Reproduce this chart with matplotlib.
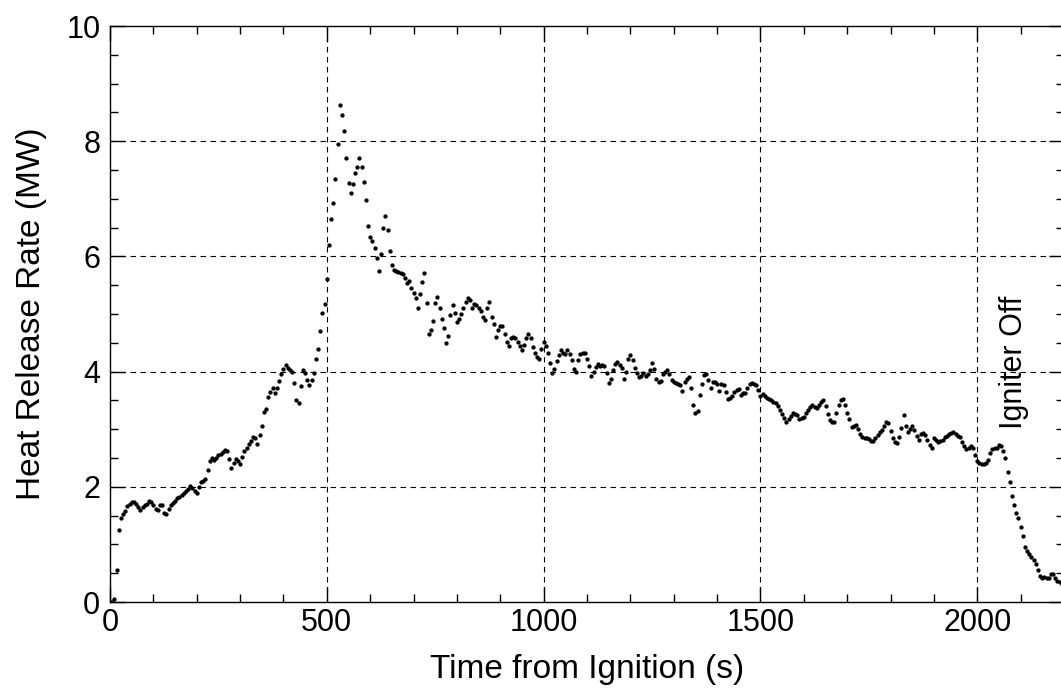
import numpy as np
import matplotlib
matplotlib.use('Agg')
import matplotlib.pyplot as plt
from matplotlib.ticker import MultipleLocator

plt.rcParams['font.family'] = ['Liberation Sans', 'DejaVu Sans']

TIME_STEP_S = 5
HRR_MW = [
    0.00, 0.00, 0.05, 0.55, 1.25, 1.45, 1.52, 1.58, 1.66, 1.70, 1.74, 1.73, 1.70, 1.65, 1.60, 1.65, 1.68, 1.70, 1.75, 1.74,
    1.68, 1.62, 1.60, 1.68, 1.68, 1.55, 1.52, 1.62, 1.68, 1.72, 1.76, 1.80, 1.82, 1.86, 1.89, 1.93, 1.97, 2.01, 1.98, 1.93,
    1.90, 2.00, 2.08, 2.10, 2.14, 2.30, 2.45, 2.50, 2.47, 2.50, 2.55, 2.57, 2.60, 2.64, 2.62, 2.48, 2.32, 2.42, 2.48, 2.44,
    2.40, 2.52, 2.62, 2.68, 2.74, 2.80, 2.86, 2.85, 2.75, 2.90, 3.05, 3.30, 3.35, 3.56, 3.64, 3.72, 3.62, 3.72, 3.84, 3.95,
    4.05, 4.11, 4.06, 4.02, 4.00, 3.80, 3.50, 3.45, 3.75, 4.03, 3.98, 3.85, 3.77, 3.85, 3.98, 4.22, 4.40, 4.70, 5.02, 5.17,
    5.60, 6.20, 6.65, 6.92, 7.35, 7.95, 8.62, 8.45, 8.17, 7.70, 7.28, 7.10, 7.25, 7.45, 7.55, 7.70, 7.55, 7.30, 6.98, 6.52,
    6.34, 6.26, 6.14, 5.98, 5.75, 6.05, 6.50, 6.70, 6.46, 6.10, 5.85, 5.76, 5.74, 5.73, 5.72, 5.70, 5.62, 5.53, 5.58, 5.45,
    5.36, 5.27, 5.10, 5.35, 5.55, 5.72, 5.19, 4.65, 4.72, 4.88, 5.19, 5.30, 5.10, 4.92, 4.75, 4.50, 4.62, 4.98, 5.16, 5.02,
    4.86, 4.92, 5.00, 5.10, 5.20, 5.28, 5.25, 5.10, 5.18, 5.15, 5.10, 5.06, 4.95, 4.90, 5.10, 5.20, 4.95, 4.82, 4.60, 4.72,
    4.80, 4.80, 4.66, 4.52, 4.45, 4.58, 4.60, 4.58, 4.52, 4.45, 4.38, 4.47, 4.58, 4.66, 4.58, 4.42, 4.32, 4.25, 4.22, 4.40,
    4.52, 4.45, 4.32, 4.15, 3.98, 4.05, 4.18, 4.28, 4.38, 4.32, 4.30, 4.38, 4.30, 4.20, 4.05, 4.00, 4.20, 4.30, 4.32, 4.32,
    4.22, 4.10, 3.92, 4.00, 4.08, 4.14, 4.10, 4.12, 4.10, 3.98, 3.80, 3.88, 4.02, 4.14, 4.16, 4.12, 4.06, 3.88, 4.00, 4.22,
    4.28, 4.20, 4.06, 3.97, 3.90, 3.92, 3.97, 3.93, 3.95, 4.02, 4.15, 4.05, 3.88, 3.82, 3.84, 3.95, 4.00, 4.02, 3.95, 3.86,
    3.82, 3.80, 3.79, 3.77, 3.66, 3.82, 3.88, 3.90, 3.71, 3.42, 3.28, 3.32, 3.60, 3.78, 3.94, 3.96, 3.86, 3.72, 3.82, 3.82,
    3.78, 3.66, 3.78, 3.76, 3.65, 3.53, 3.54, 3.58, 3.64, 3.68, 3.70, 3.60, 3.62, 3.63, 3.72, 3.78, 3.80, 3.79, 3.77, 3.68,
    3.58, 3.61, 3.58, 3.54, 3.52, 3.50, 3.48, 3.45, 3.40, 3.34, 3.26, 3.20, 3.12, 3.18, 3.23, 3.28, 3.26, 3.24, 3.18, 3.20,
    3.22, 3.28, 3.34, 3.39, 3.42, 3.38, 3.36, 3.42, 3.47, 3.51, 3.40, 3.26, 3.16, 3.12, 3.12, 3.28, 3.42, 3.50, 3.53, 3.42,
    3.28, 3.18, 3.03, 3.06, 3.08, 3.00, 2.92, 2.87, 2.85, 2.84, 2.83, 2.79, 2.80, 2.84, 2.90, 2.96, 2.99, 3.06, 3.13, 3.10,
    2.97, 2.84, 2.78, 2.76, 2.86, 3.02, 3.25, 3.05, 2.95, 3.00, 3.06, 2.98, 2.88, 2.81, 2.92, 2.94, 2.90, 2.82, 2.72, 2.68,
    2.85, 2.82, 2.78, 2.80, 2.82, 2.86, 2.88, 2.92, 2.94, 2.96, 2.92, 2.89, 2.87, 2.78, 2.70, 2.65, 2.68, 2.70, 2.67, 2.55,
    2.44, 2.41, 2.40, 2.40, 2.42, 2.46, 2.58, 2.65, 2.67, 2.67, 2.72, 2.70, 2.62, 2.50, 2.26, 2.08, 1.84, 1.68, 1.55, 1.45,
    1.31, 1.14, 0.96, 0.88, 0.83, 0.78, 0.73, 0.66, 0.55, 0.45, 0.41, 0.43, 0.42, 0.41, 0.48, 0.49, 0.42, 0.37, 0.35, 0.32,
]
TIME_S = np.arange(len(HRR_MW)) * TIME_STEP_S

X_TICKS = [0, 500, 1000, 1500, 2000]
Y_TICKS = [0, 2, 4, 6, 8, 10]
NOTE_TEXT = 'Igniter Off'
NOTE_T, NOTE_Q = 2085, 3.0

fig = plt.figure(figsize=(10.61, 6.94), dpi=100)
ax = fig.add_axes([110 / 1061, 92 / 694, 954 / 1061, 576 / 694])

ax.plot(TIME_S, HRR_MW, linestyle='none', marker='o', ms=3.1,
        color='black', markeredgewidth=0)

ax.set_xlim(0, 2200)
ax.set_ylim(0, 10)
ax.set_xticks(X_TICKS)
ax.set_yticks(Y_TICKS)
ax.xaxis.set_minor_locator(MultipleLocator(100))
ax.yaxis.set_minor_locator(MultipleLocator(0.5))
ax.tick_params(which='both', direction='in', top=True, right=True,
               labelsize=22, colors='black')
ax.tick_params(which='major', length=11, width=1)
ax.tick_params(which='minor', length=6, width=1)
ax.tick_params(axis='x', which='major', pad=4)
ax.tick_params(axis='y', which='major', pad=7)

for gx in X_TICKS[1:]:
    ax.axvline(gx, color='black', linewidth=0.8, linestyle=(0, (5, 4)), zorder=0)
for gy in Y_TICKS[1:-1]:
    ax.axhline(gy, color='black', linewidth=0.8, linestyle=(0, (5, 4)), zorder=0)

for s in ax.spines.values():
    s.set_linewidth(1.0)

ax.set_xlabel('Time from Ignition (s)', fontsize=24, labelpad=12)
ax.set_ylabel('Heat Release Rate (MW)', fontsize=24, labelpad=14)

ax.text(NOTE_T, NOTE_Q, NOTE_TEXT, rotation=90, ha='center', va='bottom',
        fontsize=22)

fig.savefig('out.png', dpi=100)
